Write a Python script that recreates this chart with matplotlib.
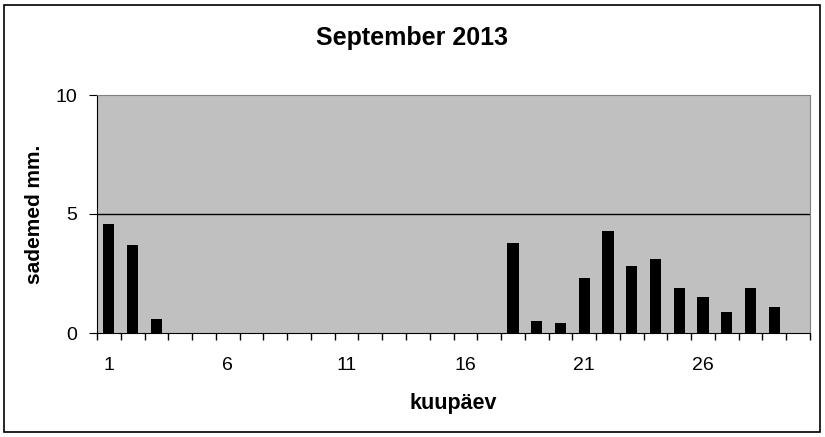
import matplotlib
matplotlib.use('Agg')
import matplotlib.pyplot as plt
from matplotlib.patches import Rectangle

# sademed september 2013
days = list(range(1, 31))
rain = [4.6, 3.7, 0.6, 0, 0, 0, 0, 0, 0, 0,
        0, 0, 0, 0, 0, 0, 0, 3.8, 0.5, 0.4,
        2.3, 4.3, 2.8, 3.1, 1.9, 1.5, 0.9, 1.9, 1.1, 0]
xlabels = [1, 6, 11, 16, 21, 26]
yticks = [0, 5, 10]

plt.rcParams['font.family'] = ['Liberation Sans', 'DejaVu Sans']

W, H = 825, 437
fig = plt.figure(figsize=(W / 100, H / 100), dpi=100)
ax = fig.add_axes([97 / W, 1 - 333 / H, 713 / W, 238 / H])
ax.set_facecolor('#c0c0c0')

ax.bar(days, rain, width=0.47, color='black', zorder=3)
ax.axhline(5, color='black', linewidth=1, zorder=2)

ax.set_xlim(0.5, 30.5)
ax.set_ylim(0, 10)
ax.set_yticks(yticks)
ax.set_xticks(xlabels)
ax.set_xticks([d + 0.5 for d in range(0, 31)], minor=True)
ax.tick_params(axis='x', which='major', length=0, pad=17, labelsize=14)
ax.tick_params(axis='x', which='minor', length=5, direction='out', width=1)
ax.tick_params(axis='y', length=6, direction='out', labelsize=14, pad=8)

ax.spines['top'].set_color('#808080')
ax.spines['right'].set_color('#808080')
for s in ['left', 'bottom']:
    ax.spines[s].set_color('black')

fig.text(453 / W, 1 - 403 / H, 'kuupäev', ha='center', va='center',
         fontsize=15.5, fontweight='bold')
fig.text(35 / W, 1 - 214 / H, 'sademed mm.', ha='center', va='center',
         rotation=90, fontsize=15, fontweight='bold')
fig.text(412 / W, 1 - 38 / H, 'September 2013', ha='center', va='center',
         fontsize=18, fontweight='bold')

fig.patches.append(Rectangle((4 / W, 5 / H), 816 / W, 427 / H,
                             transform=fig.transFigure, fill=False,
                             edgecolor='black', linewidth=1.2))

fig.savefig('out.png', dpi=100)
